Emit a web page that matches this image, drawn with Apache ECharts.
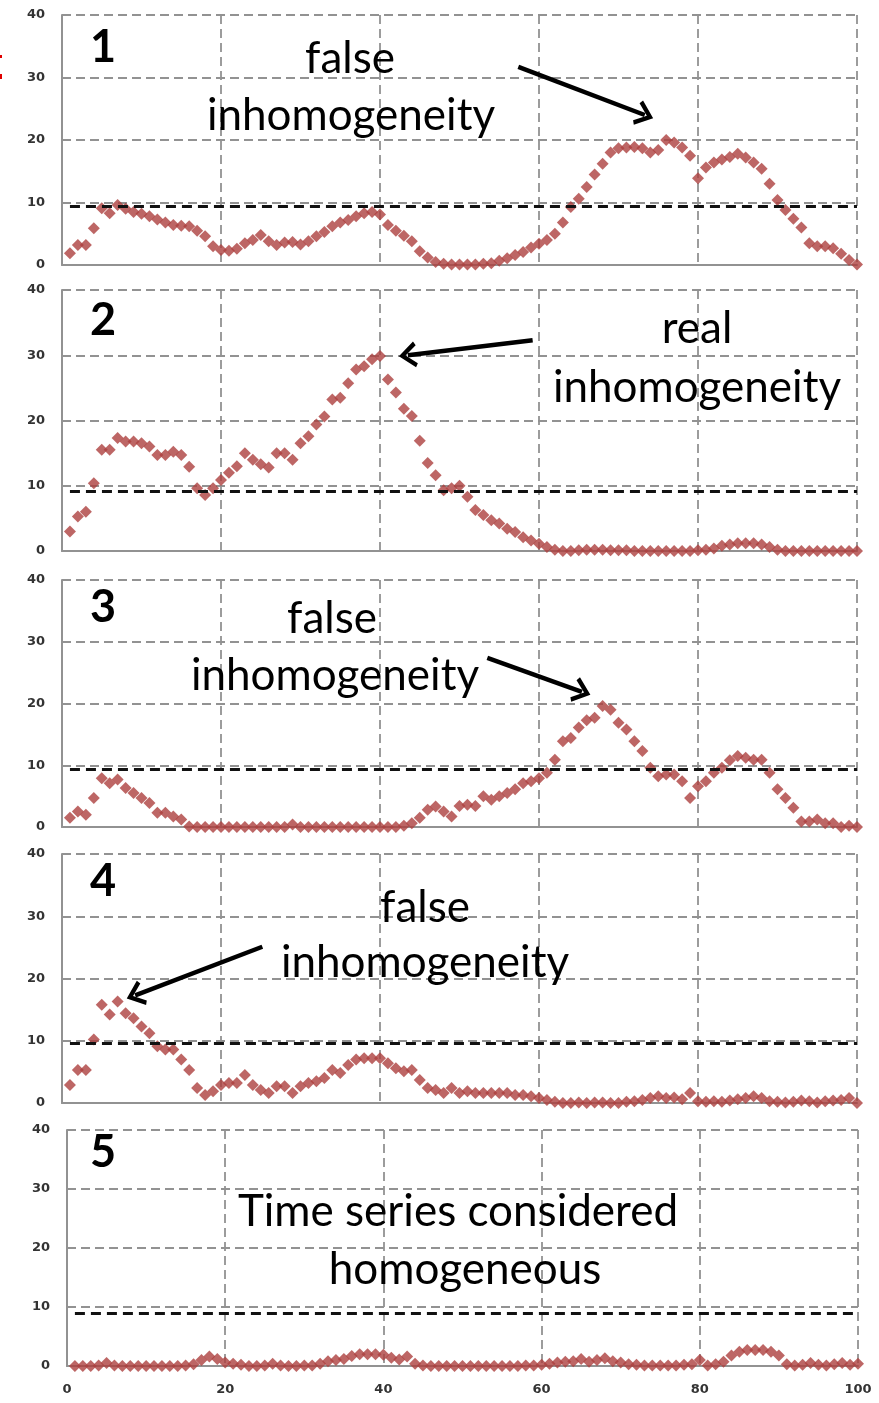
<!DOCTYPE html>
<html>
<head>
<meta charset="utf-8">
<script src="https://cdn.jsdelivr.net/npm/echarts@6/dist/echarts.min.js"></script>
<style>
  html, body { margin: 0; padding: 0; background: #fff; }
  #chart { width: 879px; height: 1403px; }
</style>
</head>
<body>
<div id="chart"></div>
<script>
// statistic values per position (x = 1..100)
const panel1 = [1.9, 3.2, 3.2, 5.9, 9.1, 8.3, 9.6, 9.0, 8.5, 8.2, 7.8, 7.3, 6.8, 6.4, 6.3, 6.2, 5.5, 4.6, 3.0, 2.4,
  2.3, 2.6, 3.5, 4.0, 4.8, 3.8, 3.2, 3.6, 3.7, 3.3, 3.8, 4.6, 5.3, 6.2, 6.8, 7.2, 7.8, 8.3, 8.5, 8.1,
  6.4, 5.5, 4.7, 3.8, 2.2, 1.2, 0.5, 0.2, 0.1, 0.1, 0.1, 0.1, 0.2, 0.3, 0.7, 1.1, 1.6, 2.1, 2.8, 3.4,
  4.0, 5.0, 6.8, 9.3, 10.6, 12.5, 14.5, 16.2, 18.0, 18.7, 18.8, 18.9, 18.7, 18.0, 18.4, 20.0, 19.6, 18.8, 17.5, 13.9,
  15.6, 16.4, 16.9, 17.3, 17.8, 17.2, 16.4, 15.4, 13.0, 10.4, 8.8, 7.4, 6.0, 3.5, 3.0, 3.0, 2.7, 1.8, 0.8, 0.1];
const panel2 = [3.0, 5.3, 6.0, 10.4, 15.5, 15.5, 17.3, 16.8, 16.8, 16.5, 16.0, 14.7, 14.7, 15.2, 14.7, 12.9, 9.6, 8.6, 9.6, 10.9,
  12.0, 13.0, 15.0, 14.0, 13.3, 12.8, 15.0, 15.0, 14.0, 16.5, 17.6, 19.4, 20.6, 23.2, 23.5, 25.7, 27.8, 28.3, 29.4, 29.9,
  26.3, 24.3, 21.8, 20.7, 16.9, 13.5, 11.6, 9.3, 9.6, 10.0, 8.3, 6.3, 5.5, 4.7, 4.2, 3.4, 2.9, 2.1, 1.6, 1.1,
  0.6, 0.2, 0.0, 0.0, 0.1, 0.2, 0.2, 0.2, 0.1, 0.1, 0.1, 0.0, 0.0, 0.0, 0.0, 0.0, 0.0, 0.0, 0.0, 0.1,
  0.2, 0.4, 0.8, 1.0, 1.2, 1.2, 1.2, 1.0, 0.6, 0.2, 0.0, 0.0, 0.0, 0.0, 0.0, 0.0, 0.0, 0.0, 0.0, 0.0];
const panel3 = [1.5, 2.5, 2.0, 4.7, 7.9, 7.1, 7.7, 6.3, 5.5, 4.7, 3.9, 2.3, 2.3, 1.7, 1.2, 0.1, 0.0, 0.0, 0.0, 0.0,
  0.0, 0.0, 0.0, 0.0, 0.0, 0.0, 0.0, 0.0, 0.4, 0.0, 0.0, 0.0, 0.0, 0.0, 0.0, 0.0, 0.0, 0.0, 0.0, 0.0,
  0.0, 0.0, 0.2, 0.6, 1.5, 2.8, 3.3, 2.5, 1.7, 3.4, 3.6, 3.4, 5.0, 4.4, 5.0, 5.5, 6.1, 7.1, 7.4, 7.9,
  8.8, 10.9, 13.9, 14.4, 16.1, 17.3, 17.7, 19.6, 19.0, 16.9, 15.8, 13.9, 12.3, 9.6, 8.2, 8.5, 8.5, 7.4, 4.7, 6.6,
  7.4, 8.8, 9.6, 10.8, 11.5, 11.2, 10.9, 10.9, 8.8, 6.1, 4.7, 3.1, 0.9, 0.9, 1.2, 0.6, 0.6, 0.0, 0.2, 0.0];
const panel4 = [2.9, 5.3, 5.3, 10.2, 15.8, 14.2, 16.3, 14.4, 13.6, 12.3, 11.2, 9.1, 8.6, 8.6, 7.0, 5.3, 2.4, 1.3, 1.9, 2.9,
  3.2, 3.2, 4.5, 2.9, 2.1, 1.6, 2.7, 2.7, 1.6, 2.7, 3.2, 3.5, 4.0, 5.3, 4.8, 6.1, 7.0, 7.2, 7.2, 7.2,
  6.4, 5.6, 5.1, 5.3, 3.7, 2.4, 2.1, 1.6, 2.4, 1.6, 1.9, 1.6, 1.6, 1.6, 1.6, 1.6, 1.3, 1.3, 1.1, 0.8,
  0.5, 0.2, 0.0, 0.0, 0.1, 0.0, 0.1, 0.1, 0.0, 0.0, 0.2, 0.3, 0.5, 0.8, 1.1, 0.8, 0.9, 0.6, 1.6, 0.3,
  0.2, 0.3, 0.2, 0.4, 0.6, 0.8, 1.1, 0.8, 0.3, 0.2, 0.1, 0.2, 0.4, 0.3, 0.1, 0.3, 0.4, 0.5, 0.8, 0.0];
const panel5 = [0.0, 0.0, 0.0, 0.1, 0.5, 0.1, 0.0, 0.0, 0.0, 0.0, 0.0, 0.0, 0.0, 0.0, 0.1, 0.3, 1.0, 1.6, 1.2, 0.6,
  0.4, 0.2, 0.0, 0.0, 0.1, 0.4, 0.1, 0.0, 0.0, 0.1, 0.1, 0.4, 0.8, 1.0, 1.2, 1.7, 2.0, 2.0, 2.0, 1.9,
  1.4, 1.1, 1.6, 0.4, 0.1, 0.0, 0.0, 0.0, 0.0, 0.0, 0.0, 0.0, 0.0, 0.0, 0.0, 0.0, 0.0, 0.1, 0.1, 0.2,
  0.4, 0.6, 0.7, 0.8, 1.2, 0.7, 1.0, 1.3, 0.8, 0.6, 0.3, 0.2, 0.1, 0.1, 0.1, 0.1, 0.1, 0.2, 0.3, 1.0,
  0.1, 0.3, 0.7, 1.8, 2.4, 2.7, 2.7, 2.7, 2.4, 1.8, 0.3, 0.1, 0.2, 0.5, 0.2, 0.1, 0.3, 0.5, 0.2, 0.4];
const panels = [panel1, panel2, panel3, panel4, panel5];

// critical value (dashed black line) per panel
const thresholds = [9.4, 9.1, 9.4, 9.6, 9.0];

// axis ticks
const xTicks = [0, 20, 40, 60, 80, 100];
const yTicks = [0, 10, 20, 30, 40];

// panel labels and annotations
const panelNumbers = ['1', '2', '3', '4', '5'];
const notes = [
  ['false', 'inhomogeneity'],
  ['real', 'inhomogeneity'],
  ['false', 'inhomogeneity'],
  ['false', 'inhomogeneity'],
  ['Time series considered', 'homogeneous']
];
// arrows [x0, y0, x1, y1] in data units (tail -> head)
const arrows = [
  [57.4, 31.7, 73.3, 24.0],
  [59.2, 32.3, 43.5, 30.0],
  [53.5, 27.4, 65.4, 21.9],
  [25.2, 25.1, 9.2, 17.3],
  null
];

const grids = [
  { left: 62, right: 22, top: 15, height: 250 },
  { left: 62, right: 22, top: 290, height: 261 },
  { left: 62, right: 22, top: 580, height: 247 },
  { left: 62, right: 22, top: 854, height: 249 },
  { left: 67, right: 21, top: 1130, height: 236 }
];
// text centres (pixels) for the annotations
const notePos = [
  [[350, 59], [351, 116]],
  [[697, 329], [697, 388]],
  [[332, 619], [335, 676]],
  [[425, 908], [425, 963]],
  [[458, 1212], [465, 1270]]
];
const numberPos = [[103, 47], [103, 320], [103, 607], [103, 881], [103, 1152]];

const markerColor = '#ad403e';
const gridColor = '#929292';
const labelStyle = { color: '#333', fontSize: 13, fontWeight: 'bold', fontFamily: 'DejaVu Sans' };
const chevron = 'path://M10,0 L20,14 L17,16 L10,6 L3,16 L0,14 Z';

const chart = echarts.init(document.getElementById('chart'));

const xAxis = grids.map((g, i) => ({
  type: 'value', gridIndex: i, min: xTicks[0], max: xTicks[xTicks.length - 1], interval: 20,
  axisLine: { show: true, lineStyle: { color: gridColor, width: 2 } },
  axisTick: { show: false },
  axisLabel: { show: i === 4, margin: 17, ...labelStyle },
  splitLine: { show: true, lineStyle: { color: gridColor, type: [9, 5], width: 1.8 } }
}));
const yAxis = grids.map((g, i) => ({
  type: 'value', gridIndex: i, min: yTicks[0], max: yTicks[yTicks.length - 1], interval: 10,
  axisLine: { show: true, lineStyle: { color: gridColor, width: 2 } },
  axisTick: { show: false },
  axisLabel: { margin: 17, ...labelStyle },
  splitLine: { show: true, lineStyle: { color: gridColor, type: [9, 5], width: 1.8 } }
}));

const series = [];
panels.forEach((vals, i) => {
  series.push({
    type: 'scatter', xAxisIndex: i, yAxisIndex: i,
    symbol: 'diamond', symbolSize: 12,
    itemStyle: { color: markerColor },
    data: vals.map((v, k) => [k + 1, v]),
    z: 3
  });
  const t = thresholds[i];
  series.push({
    type: 'line', xAxisIndex: i, yAxisIndex: i, data: [], silent: true,
    markLine: {
      silent: true, symbol: 'none', label: { show: false },
      lineStyle: { color: '#111', type: [10, 6], width: 3 },
      data: [[{ coord: [1, t] }, { coord: [100, t] }]]
    },
    z: 2
  });
  const a = arrows[i];
  if (a) {
    series.push({
      type: 'line', xAxisIndex: i, yAxisIndex: i, data: [], silent: true,
      markLine: {
        silent: true, symbol: ['none', chevron], symbolSize: [26, 18],
        label: { show: false },
        lineStyle: { color: '#000', type: 'solid', width: 4.5 },
        data: [[{ coord: [a[0], a[1]] }, { coord: [a[2], a[3]] }]]
      },
      z: 5
    });
  }
});

const graphic = [];
panelNumbers.forEach((n, i) => {
  graphic.push({
    type: 'text', x: numberPos[i][0], y: numberPos[i][1], z: 10,
    style: { text: n, fill: '#000', font: 'bold 45px Lato', textAlign: 'center', textVerticalAlign: 'middle' }
  });
  notes[i].forEach((line, j) => {
    graphic.push({
      type: 'text', x: notePos[i][j][0], y: notePos[i][j][1], z: 10,
      style: { text: line, fill: '#000', font: '44px Lato', textAlign: 'center', textVerticalAlign: 'middle' }
    });
  });
});
// cut-off red marks at the left edge
graphic.push({ type: 'rect', shape: { x: 0, y: 55, width: 2, height: 3 }, style: { fill: '#e00000' } });
graphic.push({ type: 'rect', shape: { x: 0, y: 74, width: 2, height: 5 }, style: { fill: '#e00000' } });

chart.setOption({
  animation: false,
  backgroundColor: '#fff',
  grid: grids,
  xAxis: xAxis,
  yAxis: yAxis,
  series: series,
  graphic: graphic
});
</script>
</body>
</html>
